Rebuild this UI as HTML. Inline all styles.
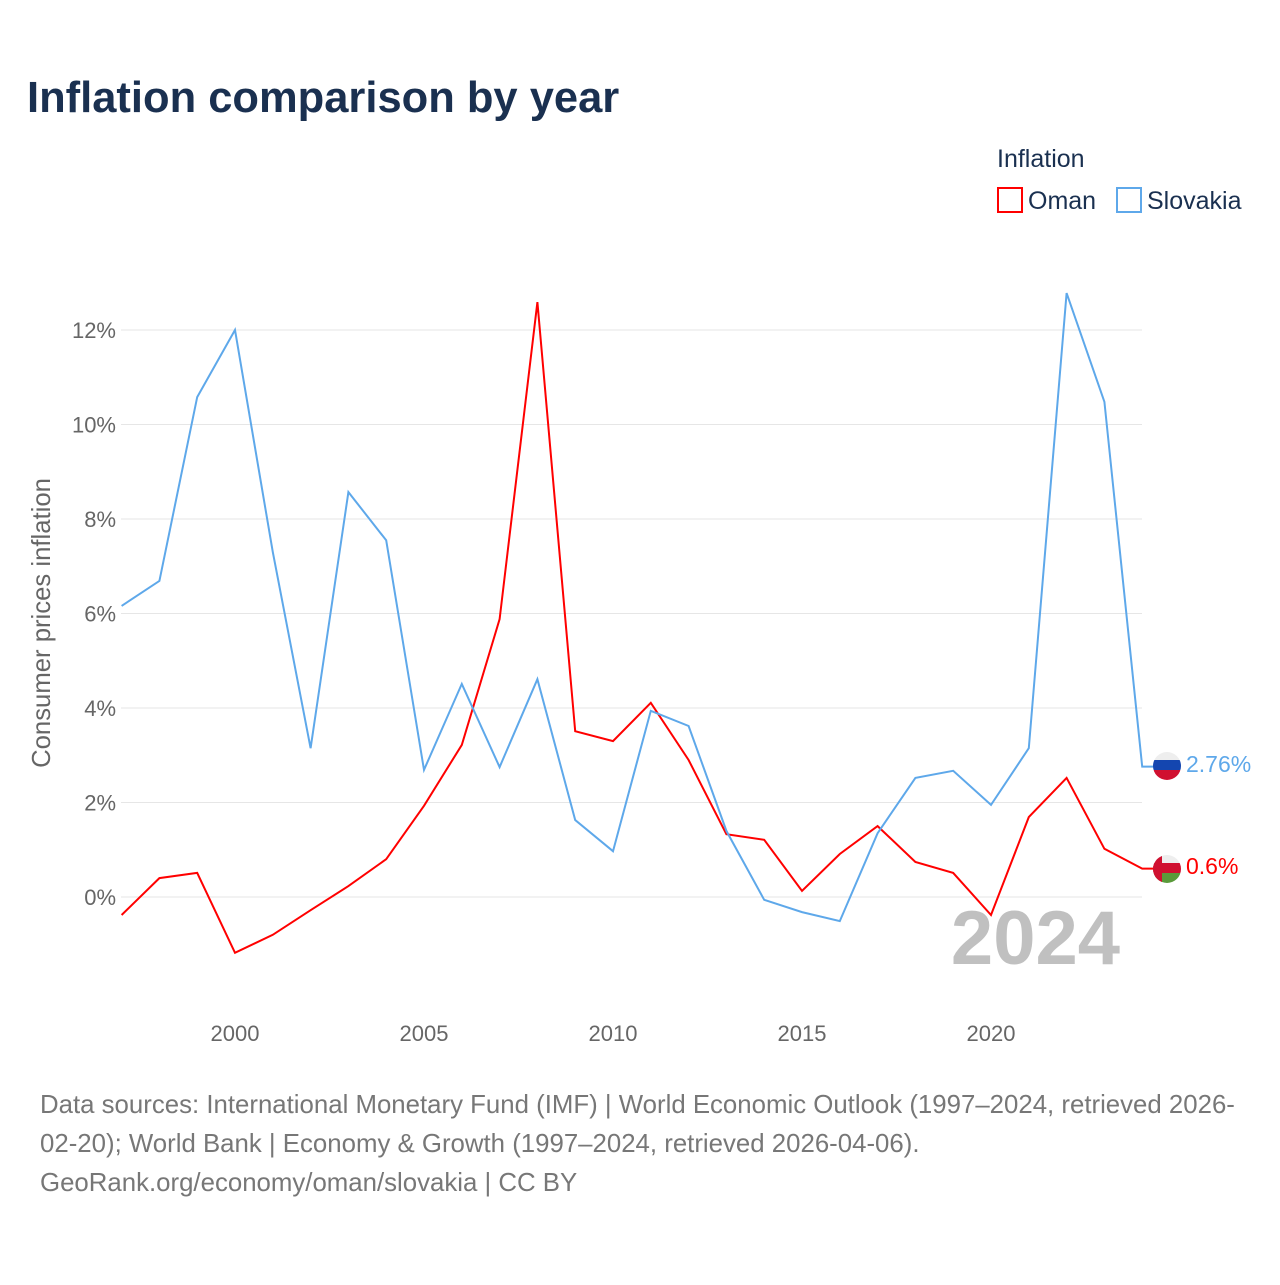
<!DOCTYPE html>
<html><head><meta charset="utf-8"><style>
body{margin:0;background:#fff;font-family:"Liberation Sans",sans-serif}
</style></head><body>
<svg width="1280" height="1280" viewBox="0 0 1280 1280" xmlns="http://www.w3.org/2000/svg">
<text x="27" y="112" font-size="43.5" font-weight="bold" fill="#1a3050">Inflation comparison by year</text>
<text x="997" y="167" font-size="25" fill="#1a3050">Inflation</text>
<g><rect x="998" y="188" width="24" height="24" fill="none" stroke="#ff0000" stroke-width="2"/><text x="1028" y="209" font-size="25" fill="#1a3050">Oman</text></g>
<g><rect x="1117" y="188" width="24" height="24" fill="none" stroke="#5ea8ea" stroke-width="2"/><text x="1147" y="209" font-size="25" fill="#1a3050">Slovakia</text></g>
<g id="grid"></g><g id="yt"></g><g id="xt"></g>
<text transform="translate(50,623) rotate(-90)" text-anchor="middle" font-size="25.7" fill="#666">Consumer prices inflation</text>
<text x="1120" y="964" text-anchor="end" font-size="76" font-weight="bold" fill="#c0c0c0">2024</text>
<g id="lines"></g>
<g><clipPath id="c1"><circle cx="1167" cy="766" r="14"/></clipPath><g clip-path="url(#c1)"><rect x="1150" y="750" width="34" height="10" fill="#eee"/><rect x="1150" y="760" width="34" height="10" fill="#1446b0"/><rect x="1150" y="770" width="34" height="12" fill="#d01030"/></g></g>
<text x="1186" y="772" font-size="23" fill="#5ea8ea">2.76%</text>
<g><clipPath id="c2"><circle cx="1167" cy="869" r="14"/></clipPath><g clip-path="url(#c2)"><rect x="1150" y="853" width="34" height="10" fill="#eee"/><rect x="1150" y="863" width="34" height="10" fill="#d01030"/><rect x="1150" y="873" width="34" height="12" fill="#5a9a3a"/><rect x="1150" y="853" width="12" height="32" fill="#d01030"/></g></g>
<text x="1186" y="874" font-size="23" fill="#ff0000">0.6%</text>
<text font-size="25.8" fill="#777"><tspan x="40" y="1113">Data sources: International Monetary Fund (IMF) | World Economic Outlook (1997–2024, retrieved 2026-</tspan><tspan x="40" y="1152">02-20); World Bank | Economy &amp; Growth (1997–2024, retrieved 2026-04-06).</tspan><tspan x="40" y="1191">GeoRank.org/economy/oman/slovakia | CC BY</tspan></text>
</svg>
<script>
const years=[];for(let y=1997;y<=2024;y++)years.push(y);
const slovakia=[6.16,6.69,10.58,12.0,7.3,3.15,8.57,7.55,2.69,4.51,2.75,4.61,1.63,0.97,3.94,3.62,1.4,-0.06,-0.32,-0.51,1.35,2.52,2.67,1.95,3.15,12.78,10.48,2.76];
const oman=[-0.38,0.40,0.51,-1.18,-0.80,-0.28,0.23,0.80,1.93,3.22,5.88,12.59,3.51,3.30,4.11,2.90,1.33,1.21,0.13,0.91,1.50,0.74,0.51,-0.38,1.69,2.52,1.02,0.6];
const yTicks=[0,2,4,6,8,10,12];
const xTicks=[2000,2005,2010,2015,2020];
const X=y=>235+(y-2000)*37.8, Y=v=>897-v*47.25;
const NS="http://www.w3.org/2000/svg";
function mk(t,a,p){const e=document.createElementNS(NS,t);for(const k in a)e.setAttribute(k,a[k]);p.appendChild(e);return e;}
const g=document.getElementById('grid'),yt=document.getElementById('yt'),xt=document.getElementById('xt'),L=document.getElementById('lines');
yTicks.forEach(v=>{
 const l=mk('line',{x1:121,x2:1142,y1:Y(v),y2:Y(v),stroke:'#e6e6e6','stroke-width':1},g);
 
 
 const t=mk('text',{x:116,y:Y(v)+8,'text-anchor':'end','font-size':22,fill:'#666'},yt);t.textContent=v+'%';
 
 
});
xTicks.forEach(v=>{
 const t=mk('text',{x:X(v),y:1041,'text-anchor':'middle','font-size':22,fill:'#666'},xt);t.textContent=v;
 
 
});
function line(data,col,name){
 let d=data.map((v,i)=>(i?'L':'M')+X(years[i]).toFixed(1)+','+Y(v).toFixed(1)).join('');
 d+='L'+(X(2024)+12)+','+Y(data[data.length-1]).toFixed(1);
 const p=mk('path',{d:d,fill:'none',stroke:col,'stroke-width':2,'stroke-linejoin':'miter'},L);
 
 
}
line(oman,'#ff0000','oman-line');
line(slovakia,'#5ea8ea','slovakia-line');
</script>
</body></html>
